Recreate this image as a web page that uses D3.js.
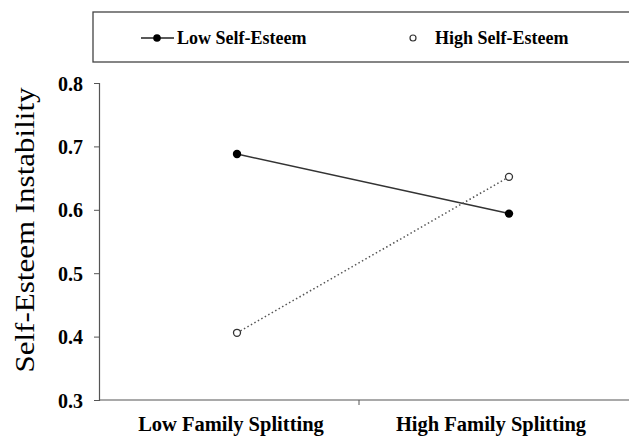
<!DOCTYPE html>
<html><head><meta charset="utf-8">
<script src="https://cdn.jsdelivr.net/npm/d3@7/dist/d3.min.js"></script>
<style>
html,body{margin:0;padding:0;background:#fff;}
svg{display:block;font-family:"Liberation Serif","Times New Roman",serif;}
</style></head>
<body>
<svg id="chart" width="629" height="437"></svg>
<script>
const categories = ["Low Family Splitting", "High Family Splitting"];
const seriesNames = ["Low Self-Esteem", "High Self-Esteem"];
const lowSelfEsteem = [0.688, 0.594];
const highSelfEsteem = [0.406, 0.652];
const yTicks = [0.3, 0.4, 0.5, 0.6, 0.7, 0.8];
const yTitle = "Self-Esteem Instability";

const svg = d3.select("#chart");
const axisLeft = 99, axisRight = 640, axisTop = 83, axisBottom = 400;

const y = d3.scaleLinear().domain([0.3, 0.8]).range([axisBottom, axisTop]);
const xBand = d3.scaleBand().domain(categories).range([axisLeft, 619]);
const xPt = d3.scalePoint().domain(categories).range([237, 509]);

// Y axis
const yAxis = d3.axisLeft(y).tickValues(yTicks).tickFormat(d3.format(".1f")).tickSize(5).tickPadding(11);
const gy = svg.append("g").attr("transform", `translate(${axisLeft},0)`).call(yAxis);
gy.select(".domain").attr("stroke", "#555").attr("stroke-width", 1.2);
gy.selectAll(".tick line").attr("stroke", "#555");
gy.selectAll(".tick text").attr("fill", "#000").style("font-size", "20px").style("font-weight", "bold")
  .style("font-family", "'Liberation Serif',serif").attr("dy", "0.35em");

// X axis
const gx = svg.append("g").attr("transform", `translate(0,${axisBottom})`);
gx.append("line").attr("x1", axisLeft).attr("x2", axisRight).attr("y1", 0).attr("y2", 0)
  .attr("stroke", "#555").attr("stroke-width", 1.2);
const boundaries = [xBand.step() + axisLeft];
gx.selectAll("line.tk").data(boundaries).join("line").attr("class", "tk")
  .attr("x1", d => d).attr("x2", d => d).attr("y1", 0).attr("y2", 5).attr("stroke", "#555");
gx.selectAll("text").data(categories).join("text")
  .attr("x", d => xBand(d) + xBand.bandwidth() / 2 + 2).attr("y", 31)
  .attr("text-anchor", "middle").style("font-size", "20.5px").style("font-weight", "bold").text(d => d);

// Y title
svg.append("text").attr("transform", `translate(34,230) rotate(-90)`)
  .attr("text-anchor", "middle").style("font-size", "28px")
  .attr("textLength", 285).attr("lengthAdjust", "spacingAndGlyphs").text(yTitle);

// Lines
const line = d3.line().x((d, i) => xPt(categories[i])).y(d => y(d));
svg.append("path").datum(lowSelfEsteem).attr("d", line).attr("fill", "none")
  .attr("stroke", "#333").attr("stroke-width", 1.5);
svg.append("path").datum(highSelfEsteem).attr("d", line).attr("fill", "none")
  .attr("stroke", "#555").attr("stroke-width", 1.5).attr("stroke-dasharray", "1.5,2.5");

svg.selectAll("circle.low").data(lowSelfEsteem).join("circle").attr("class", "low")
  .attr("cx", (d, i) => xPt(categories[i])).attr("cy", d => y(d)).attr("r", 4.2).attr("fill", "#000");
svg.selectAll("circle.high").data(highSelfEsteem).join("circle").attr("class", "high")
  .attr("cx", (d, i) => xPt(categories[i])).attr("cy", d => y(d)).attr("r", 3.5)
  .attr("fill", "#fff").attr("stroke", "#333").attr("stroke-width", 1.3);

// Legend
const lg = svg.append("g");
lg.append("rect").attr("x", 93).attr("y", 12).attr("width", 560).attr("height", 50)
  .attr("fill", "none").attr("stroke", "#444").attr("stroke-width", 1.3);
lg.append("line").attr("x1", 141).attr("x2", 174).attr("y1", 38).attr("y2", 38).attr("stroke", "#222").attr("stroke-width", 1.5);
lg.append("circle").attr("cx", 157).attr("cy", 38).attr("r", 3.8).attr("fill", "#000");
lg.append("circle").attr("cx", 413).attr("cy", 38).attr("r", 3).attr("fill", "#fff").attr("stroke", "#333").attr("stroke-width", 1.2);
lg.append("text").attr("x", 177).attr("y", 44).style("font-size", "18px").style("font-weight", "bold").text(seriesNames[0]);
lg.append("text").attr("x", 435).attr("y", 44).style("font-size", "18px").style("font-weight", "bold").text(seriesNames[1]);
</script>
</body></html>
